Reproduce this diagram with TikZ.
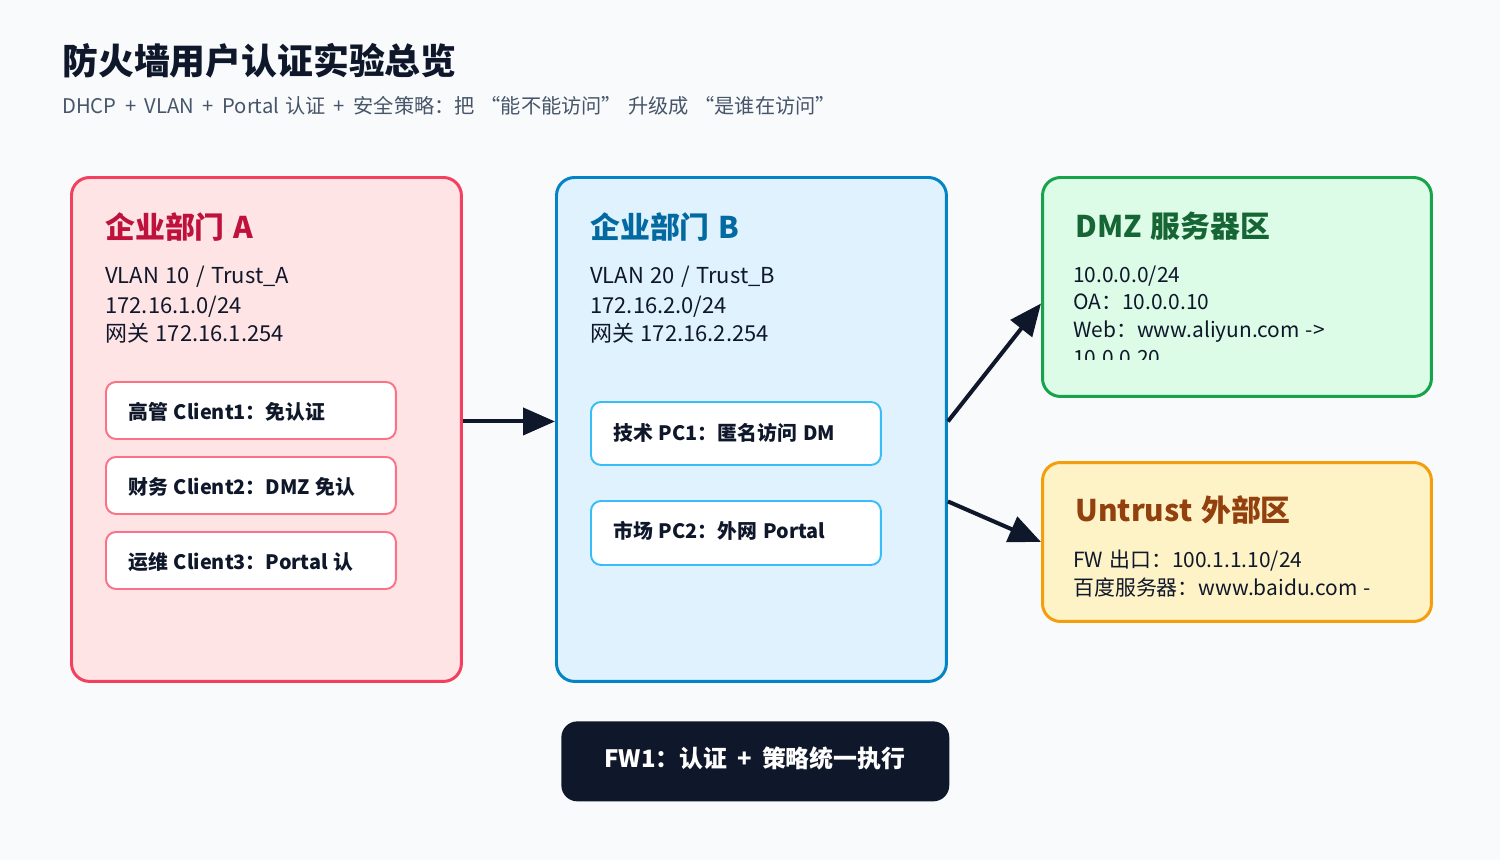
\documentclass[tikz,border=0pt]{standalone}
\usepackage{fontspec}
\setmainfont[WordSpace=1.3]{Noto Sans CJK SC}
\usetikzlibrary{arrows.meta}
\definecolor{bg}{HTML}{F8FAFC}
\definecolor{ink}{HTML}{0F172A}
\definecolor{subc}{HTML}{475569}
\definecolor{aDraw}{HTML}{F43F5E}
\definecolor{aFill}{HTML}{FFE4E6}
\definecolor{aTitle}{HTML}{BE123C}
\definecolor{aItem}{HTML}{FB7185}
\definecolor{bDraw}{HTML}{0284C7}
\definecolor{bFill}{HTML}{E0F2FE}
\definecolor{bTitle}{HTML}{0369A1}
\definecolor{bItem}{HTML}{38BDF8}
\definecolor{dDraw}{HTML}{16A34A}
\definecolor{dFill}{HTML}{DCFCE7}
\definecolor{dTitle}{HTML}{166534}
\definecolor{uDraw}{HTML}{F59E0B}
\definecolor{uFill}{HTML}{FEF3C7}
\definecolor{uTitle}{HTML}{92400E}
\newcommand\myfs[1]{\fontsize{#1}{#1}\selectfont}
\newcommand\wplus{\hspace{0.42em}+\hspace{0.42em}}
\begin{document}
\begin{tikzpicture}[x=0.02cm,y=-0.02cm,
  zone/.style={draw, line width=1.7pt, rounded corners=0.36cm, anchor=north west, inner sep=0pt},
  item/.style={draw, fill=white, line width=1.1pt, rounded corners=0.2cm, anchor=north west, inner sep=0pt, minimum width=5.8cm},
  ztitle/.style={anchor=base west, inner sep=0pt, font=\myfs{17}\bfseries},
  body/.style={anchor=base west, inner sep=0pt, text=ink, font=\myfs{12.5}},
  sbody/.style={anchor=base west, inner sep=0pt, text=ink, font=\myfs{11.9}},
  itext/.style={anchor=base west, inner sep=0pt, text=ink, font=\myfs{11.3}\bfseries},
  arr/.style={draw=ink, line width=2.3pt, -{Triangle[length=0.64cm,width=0.54cm]}}
]
\useasboundingbox[fill=bg] (0,0) rectangle (1500,860);

% header
\node[anchor=base west, inner sep=0pt, text=ink, font=\myfs{20.4}\bfseries] (title) at (62,74) {防火墙用户认证实验总览};
\node[anchor=base west, inner sep=0pt, text=subc, font=\myfs{11.5}] (subtitle) at (62,113) {DHCP\wplus VLAN\wplus Portal 认证\wplus 安全策略：把 “能不能访问” 升级成 “是谁在访问”};

% zone A
\node[zone, draw=aDraw, fill=aFill, minimum width=7.8cm, minimum height=10.08cm] (A) at (70,176) {};
\node[ztitle, text=aTitle] (Atitle) at (105,238) {企业部门 A};
\node[body] (A1) at (105,283) {VLAN 10 / Trust\_A};
\node[body] (A2) at (105,313) {172.16.1.0/24};
\node[body] (A3) at (105,341) {网关 172.16.1.254};
\node[item, draw=aItem, minimum height=1.14cm] (c1) at (105,381) {};
\node[itext] (c1t) at (128,419) {高管 Client1：免认证};
\node[item, draw=aItem, minimum height=1.14cm] (c2) at (105,456) {};
\node[itext] (c2t) at (128,494) {财务 Client2：DMZ 免认};
\node[item, draw=aItem, minimum height=1.14cm] (c3) at (105,531) {};
\node[itext] (c3t) at (128,569) {运维 Client3：Portal 认};

% zone B
\node[zone, draw=bDraw, fill=bFill, minimum width=7.8cm, minimum height=10.08cm] (B) at (555,176) {};
\node[ztitle, text=bTitle] (Btitle) at (590,238) {企业部门 B};
\node[body] (B1) at (590,283) {VLAN 20 / Trust\_B};
\node[body] (B2) at (590,313) {172.16.2.0/24};
\node[body] (B3) at (590,341) {网关 172.16.2.254};
\node[item, draw=bItem, minimum height=1.26cm] (p1) at (590,401) {};
\node[itext] (p1t) at (613,440) {技术 PC1：匿名访问 DM};
\node[item, draw=bItem, minimum height=1.28cm] (p2) at (590,500) {};
\node[itext] (p2t) at (613,538) {市场 PC2：外网 Portal};

% DMZ
\node[zone, draw=dDraw, fill=dFill, minimum width=7.78cm, minimum height=4.38cm] (D) at (1041,176) {};
\node[ztitle, text=dTitle] (Dtitle) at (1075,237) {DMZ 服务器区};
\begin{scope}
\clip (1045,180) rectangle (1426,359);
\node[sbody] (D1) at (1073,282) {10.0.0.0/24};
\node[sbody] (D2) at (1073,309.5) {OA：10.0.0.10};
\node[sbody] (D3) at (1073,337.5) {Web：www.aliyun.com ->};
\node[sbody] (D4) at (1073,365.5) {10.0.0.20};
\end{scope}

% Untrust
\node[zone, draw=uDraw, fill=uFill, minimum width=7.78cm, minimum height=3.18cm] (U) at (1041,461) {};
\node[ztitle, text=uTitle] (Utitle) at (1075,521.5) {Untrust 外部区};
\node[sbody] (U1) at (1073,567) {FW 出口：100.1.1.10/24};
\node[sbody] (U2) at (1073,595) {百度服务器：www.baidu.com -};

% FW
\node[fill=ink, rounded corners=0.32cm, anchor=north west, inner sep=0pt, minimum width=7.76cm, minimum height=1.6cm] (FW) at (561,721) {};
\node[anchor=base, inner sep=0pt, text=white, font=\myfs{13.6}\bfseries] (FWt) at (755,767) {FW1：认证\wplus 策略统一执行};

% connectors
\draw[arr] ([yshift=0.16cm]A.east) -- ([yshift=0.16cm]B.west);
\draw[arr] ([yshift=0.16cm]B.east) -- ([yshift=-0.33cm]D.west);
\draw[arr] ([yshift=-1.44cm]B.east) -- (U.west);
\end{tikzpicture}
\end{document}
